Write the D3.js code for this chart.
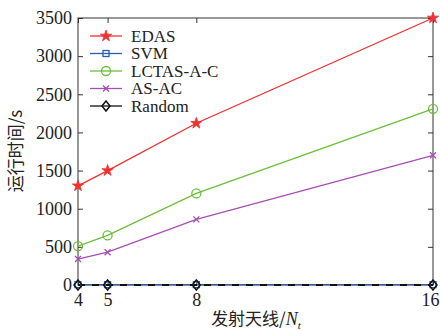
<!DOCTYPE html>
<html><head><meta charset="utf-8">
<script src="https://cdn.jsdelivr.net/npm/d3@7"></script>
<style>body{margin:0;background:#fff}svg{display:block}</style>
</head><body>
<script>
const xValues = [4, 5, 8, 16];
const edas = [1300, 1500, 2120, 3500];
const svm = [5, 5, 5, 5];
const lctas = [510, 650, 1200, 2310];
const asac = [340, 430, 860, 1700];
const random = [0, 0, 0, 0];
const yTicks = [0, 500, 1000, 1500, 2000, 2500, 3000, 3500];
const seriesNames = ["EDAS", "SVM", "LCTAS-A-C", "AS-AC", "Random"];

const W = 440, H = 331;
const m = {l: 78, r: 7, t: 18, b: 46};
const svg = d3.select("body").append("svg").attr("width", W).attr("height", H);
const x = d3.scaleLinear().domain([4, 16]).range([m.l, W - m.r]);
const y = d3.scaleLinear().domain([0, 3500]).range([H - m.b, m.t]);
const font = "'Liberation Serif', 'Times New Roman', serif";

svg.append("rect").attr("x", m.l).attr("y", m.t).attr("width", W - m.r - m.l).attr("height", H - m.b - m.t)
  .attr("fill", "none").attr("stroke", "#333").attr("stroke-width", 1);

const ax = (g) => g.selectAll("path").remove();
const xb = svg.append("g").attr("transform", `translate(0,${H - m.b})`)
  .call(d3.axisBottom(x).tickValues(xValues).tickSize(-5).tickPadding(8).tickFormat(d3.format("d")));
const xt = svg.append("g").attr("transform", `translate(0,${m.t})`)
  .call(d3.axisTop(x).tickValues(xValues).tickSize(-5).tickFormat(""));
const yl = svg.append("g").attr("transform", `translate(${m.l},0)`)
  .call(d3.axisLeft(y).tickValues(yTicks).tickSize(-5).tickPadding(6).tickFormat(d3.format("d")));
const yr = svg.append("g").attr("transform", `translate(${W - m.r},0)`)
  .call(d3.axisRight(y).tickValues(yTicks).tickSize(-5).tickFormat(""));
[xb, xt, yl, yr].forEach(g => {
  g.call(ax);
  g.selectAll("line").attr("stroke", "#333");
  g.selectAll("text").attr("font-family", font).attr("font-size", 18).attr("fill", "#222");
});
xb.selectAll(".tick text").filter(d => d === 16).attr("dx", -3);

const series = [
  {name: "EDAS", vals: edas, color: "#f03030", marker: "star"},
  {name: "SVM", vals: svm, color: "#2a5db0", marker: "square"},
  {name: "LCTAS-A-C", vals: lctas, color: "#6cbf3a", marker: "circle"},
  {name: "AS-AC", vals: asac, color: "#a64fb3", marker: "x"},
  {name: "Random", vals: random, color: "#111", marker: "diamond", dash: "7,7"}
];

function drawMarker(g, type, cx, cy, color) {
  if (type === "star") {
    g.append("path").attr("d", d3.symbol().type(d3.symbolStar).size(40)()).attr("transform", `translate(${cx},${cy})`)
      .attr("fill", color).attr("stroke", color).attr("stroke-width", 0.8);
  } else if (type === "square") {
    g.append("rect").attr("x", cx - 3).attr("y", cy - 3).attr("width", 6).attr("height", 6)
      .attr("fill", "none").attr("stroke", color).attr("stroke-width", 1.3);
  } else if (type === "circle") {
    g.append("circle").attr("cx", cx).attr("cy", cy).attr("r", 4.5).attr("fill", "none").attr("stroke", color).attr("stroke-width", 1.3);
  } else if (type === "x") {
    g.append("path").attr("d", `M${cx-3},${cy-3}L${cx+3},${cy+3}M${cx-3},${cy+3}L${cx+3},${cy-3}`).attr("stroke", color).attr("stroke-width", 1.3);
  } else if (type === "diamond") {
    g.append("path").attr("d", `M${cx},${cy-5}L${cx+4},${cy}L${cx},${cy+5}L${cx-4},${cy}Z`).attr("fill", "none").attr("stroke", color).attr("stroke-width", 1.5);
  }
}

const line = d3.line().x((d, i) => x(xValues[i])).y(d => y(d));
const plot = svg.append("g");
series.forEach(s => {
  plot.append("path").datum(s.vals).attr("d", line).attr("fill", "none").attr("stroke", s.color)
    .attr("stroke-width", s.dash ? 1.8 : 1.3).attr("stroke-dasharray", s.dash || null);
});
series.forEach(s => {
  s.vals.forEach((v, i) => drawMarker(plot, s.marker, x(xValues[i]), y(v), s.color));
});

const lg = svg.append("g");
series.forEach((s, i) => {
  const ly = 36 + i * 17.5;
  lg.append("line").attr("x1", 90).attr("x2", 122).attr("y1", ly).attr("y2", ly).attr("stroke", s.color).attr("stroke-width", 1.3);
  drawMarker(lg, s.marker, 106, ly, s.color);
  lg.append("text").attr("x", 131).attr("y", ly + 5.5).text(s.name)
    .attr("font-family", font).attr("font-size", 17).attr("fill", "#222");
});

const xl = svg.append("text").attr("x", 256).attr("y", 325).attr("text-anchor", "middle")
  .attr("font-family", "'Noto Sans CJK SC', " + font).attr("font-size", 17).attr("fill", "#222");
xl.append("tspan").text("发射天线/");
xl.append("tspan").attr("font-family", font).attr("font-style", "italic").attr("font-size", 18).text("N");
xl.append("tspan").attr("font-family", font).attr("font-style", "italic").attr("font-size", 11).attr("dy", 4).text("t");

svg.append("text").attr("transform", "translate(22,151) rotate(-90)").attr("text-anchor", "middle")
  .attr("font-family", "'Noto Sans CJK SC', " + font).attr("font-size", 17).attr("fill", "#222")
  .text("运行时间/s");
</script>
</body></html>
